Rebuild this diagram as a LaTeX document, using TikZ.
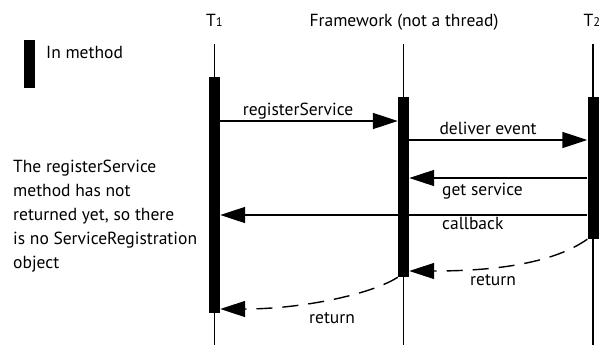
\documentclass[tikz,border=0pt]{standalone}
\usepackage{fontspec}
\setmainfont{PT Sans}
\usetikzlibrary{arrows.meta}
\newcommand{\subfig}[1]{{\fontsize{12.5}{12}\selectfont #1}}
\begin{document}
\begin{tikzpicture}[x=1pt,y=-1pt,
  lbl/.style={font=\fontsize{17.5}{24}\selectfont, inner sep=0pt},
  life/.style={line width=1.6pt},
  actbar/.style={fill=black, draw=none, minimum width=11pt, inner sep=0pt},
  msg/.style={line width=1.5pt, -{Triangle[length=25pt,width=16pt]}},
  ret/.style={line width=1.4pt, dash pattern=on 16pt off 10pt, -{Triangle[length=25pt,width=16pt]}}
]
\useasboundingbox[fill=white] (0,0) rectangle (601,345);
% headers
\node[lbl, anchor=base] (h1) at (214.5,27) {T\subfig{1}};
\node[lbl, anchor=base] (hf) at (404,27) {Framework (not a thread)};
\node[lbl, anchor=base] (h2) at (592,27) {T\subfig{2}};
% lifelines
\coordinate (l1t) at (214.5,44); \coordinate (l1b) at (214.5,345);
\coordinate (lft) at (403.5,44); \coordinate (lfb) at (403.5,345);
\coordinate (l2t) at (593,44);   \coordinate (l2b) at (593,345);
\draw[life] (l1t) -- (l1b);
\draw[life] (lft) -- (lfb);
\draw[life] (l2t) -- (l2b);
% activation bars
\node[actbar, minimum height=236pt] (b1) at (214.5,195) {};
\node[actbar, minimum height=180pt] (bf) at (403.5,187) {};
\node[actbar, minimum height=142pt] (b2) at (593,168) {};
% legend
\node[actbar, minimum height=48pt] (leg) at (29.5,64) {};
\node[lbl, anchor=base west] (legt) at (46,58) {In method};
% note
\node[lbl, anchor=north west, align=left] (note) at (13,160) {The registerService\\method has not\\returned yet, so there\\is no ServiceRegistration\\object};
% messages
\draw[msg] (b1.east |- 0,121) -- (bf.west |- 0,121);
\node[lbl, anchor=base] (m1) at (298,115) {registerService};
\draw[msg] (bf.east |- 0,140) -- (b2.west |- 0,140);
\node[lbl, anchor=base] (m2) at (488,134) {deliver event};
\draw[msg] (b2.west |- 0,178) -- (bf.east |- 0,178);
\node[lbl, anchor=base west] (m3) at (442,195) {get service};
\draw[msg] (b2.west |- 0,215) -- (b1.east |- 0,215);
\node[lbl, anchor=base west] (m4) at (442,229) {callback};
% returns
\draw[ret] (b2.south west) .. controls (555,262) and (500,271) .. (bf.east |- 0,271);
\node[lbl, anchor=base west] (r1) at (470,285) {return};
\draw[ret] (bf.south west) .. controls (370,295) and (300,309) .. (b1.east |- 0,309);
\node[lbl, anchor=base west] (r2) at (309,323) {return};
\end{tikzpicture}
\end{document}
